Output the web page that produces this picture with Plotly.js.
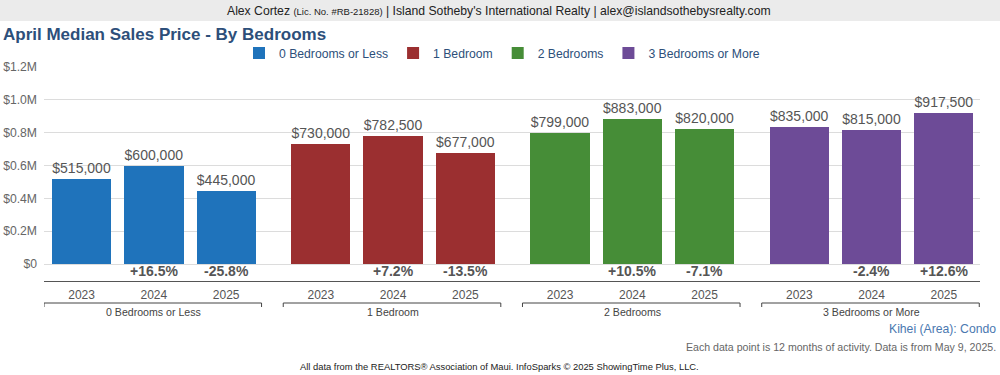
<!DOCTYPE html>
<html>
<head>
<meta charset="utf-8">
<script src="https://cdn.plot.ly/plotly-3.0.1.min.js"></script>
<style>
html,body{margin:0;padding:0;background:#fff;}
#chart{width:1000px;height:375px;}
</style>
</head>
<body>
<div id="chart"></div>
<script>
// ---- Data ----
const groups = ["0 Bedrooms or Less", "1 Bedroom", "2 Bedrooms", "3 Bedrooms or More"];
const years = ["2023", "2024", "2025"];
const values0 = [515000, 600000, 445000];
const values1 = [730000, 782500, 677000];
const values2 = [799000, 883000, 820000];
const values3 = [835000, 815000, 917500];
const changes0 = ["", "+16.5%", "-25.8%"];
const changes1 = ["", "+7.2%", "-13.5%"];
const changes2 = ["", "+10.5%", "-7.1%"];
const changes3 = ["", "-2.4%", "+12.6%"];
const yTickVals = [0, 200000, 400000, 600000, 800000, 1000000, 1200000];
const yTickText = ["$0", "$0.2M", "$0.4M", "$0.6M", "$0.8M", "$1.0M", "$1.2M"];
const colors = ["#1f73bb", "#9b2f30", "#468d37", "#6d4b97"];

// ---- Layout helpers ----
const W = 1000, H = 375, L = 44, R = 20, T = 67, B = 94;
const pw = W - L - R, ph = H - T - B;
const px = x => (x - L) / pw;
const py = y => (H - B - y) / ph;
const GROUP_PITCH = 3.31;
const pos = (g, i) => g * GROUP_PITCH + i;

const allValues = [values0, values1, values2, values3];
const allChanges = [changes0, changes1, changes2, changes3];
const fmt = v => "$" + v.toLocaleString("en-US");

const font = '"Liberation Sans", Arial, sans-serif';

const traces = groups.map((name, g) => ({
  type: "bar",
  name: name,
  x: years.map((_, i) => pos(g, i)),
  y: allValues[g],
  width: 0.82,
  marker: {color: colors[g]},
  text: allValues[g].map(fmt),
  textposition: "outside",
  textfont: {size: 14, color: "#555", family: font},
  cliponaxis: false,
  hoverinfo: "skip"
}));

const tickVals = [], tickText = [];
groups.forEach((_, g) => years.forEach((yr, i) => { tickVals.push(pos(g, i)); tickText.push(yr); }));

const annotations = [];
// header
annotations.push({
  xref: "paper", yref: "paper", x: px(499), y: py(11), xanchor: "center", yanchor: "middle",
  text: "Alex Cortez <span style='font-size:9.5px'>(Lic. No. #RB-21828)</span> | Island Sotheby's International Realty | alex@islandsothebysrealty.com",
  showarrow: false, font: {size: 12.2, color: "#222", family: font}
});
// percent changes
groups.forEach((_, g) => years.forEach((yr, i) => {
  if (allChanges[g][i]) annotations.push({
    xref: "x", yref: "y", x: pos(g, i), y: -42500, xanchor: "center", yanchor: "middle",
    text: "<b>" + allChanges[g][i] + "</b>", showarrow: false,
    font: {size: 14, color: "#555", family: font}
  });
}));
// group labels
groups.forEach((name, g) => annotations.push({
  xref: "x", yref: "paper", x: pos(g, 1), y: py(312), xanchor: "center", yanchor: "middle",
  text: name, showarrow: false, font: {size: 10.6, color: "#444", family: font}
}));
// footer texts
annotations.push({
  xref: "paper", yref: "paper", x: px(998), y: py(329), xanchor: "right", yanchor: "middle",
  text: "Kihei (Area): Condo", showarrow: false, font: {size: 12.2, color: "#4a78b0", family: font}
});
annotations.push({
  xref: "paper", yref: "paper", x: px(998), y: py(347), xanchor: "right", yanchor: "middle",
  text: "Each data point is 12 months of activity. Data is from May 9, 2025.", showarrow: false,
  font: {size: 10.6, color: "#666", family: font}
});
annotations.push({
  xref: "paper", yref: "paper", x: px(499), y: py(366), xanchor: "center", yanchor: "middle",
  text: "All data from the REALTORS® Association of Maui. InfoSparks © 2025 ShowingTime Plus, LLC.", showarrow: false,
  font: {size: 9.4, color: "#222", family: font}
});

const shapes = [];
// header band
shapes.push({type: "rect", xref: "paper", yref: "paper", x0: px(0), x1: px(1000), y0: py(21), y1: py(0),
  fillcolor: "#ebebeb", line: {width: 0}, layer: "below"});
// brackets
groups.forEach((_, g) => {
  const x0 = pos(g, 0) - 0.52, x1 = pos(g, 2) + 0.49;
  const yTop = py(303), yBot = py(307);
  shapes.push({type: "path", xref: "x", yref: "paper",
    path: `M ${x0},${yBot} L ${x0},${yTop} L ${x1},${yTop} L ${x1},${yBot}`,
    line: {color: "#444", width: 1}});
});

const layout = {
  width: W, height: H,
  margin: {l: L, r: R, t: T, b: B, pad: 0},
  paper_bgcolor: "#fff", plot_bgcolor: "#fff",
  font: {family: font},
  title: {text: "<b>April Median Sales Price - By Bedrooms</b>", x: 3 / W, xanchor: "left", xref: "container",
    y: 1 - 34 / H, yanchor: "middle", yref: "container",
    font: {size: 17, color: "#2d4f7a", family: font}},
  showlegend: true,
  legend: {orientation: "h", x: px(502), xanchor: "center", y: py(53), yanchor: "middle",
    itemwidth: 30, font: {size: 12.2, color: "#2d4f7a", family: font}, bgcolor: "rgba(0,0,0,0)"},
  xaxis: {range: [-0.52, 3 * GROUP_PITCH + 2 + 0.5], tickvals: tickVals, ticktext: tickText,
    showgrid: false, zeroline: false, showline: true, linecolor: "#555", linewidth: 1,
    ticks: "outside", ticklen: 3, tickcolor: "rgba(0,0,0,0)",
    tickfont: {size: 12, color: "#555", family: font}, fixedrange: true},
  yaxis: {range: [-103500, 1200000], tickvals: yTickVals, ticktext: yTickText,
    showgrid: true, gridcolor: "#dcdcdc", gridwidth: 1, zeroline: false, showline: false,
    ticks: "", ticklabelstandoff: 6, tickfont: {size: 12.2, color: "#666", family: font}, fixedrange: true},
  annotations: annotations,
  shapes: shapes,
  bargap: 0
};

Plotly.newPlot("chart", traces, layout, {displayModeBar: false, staticPlot: true});
</script>
</body>
</html>
